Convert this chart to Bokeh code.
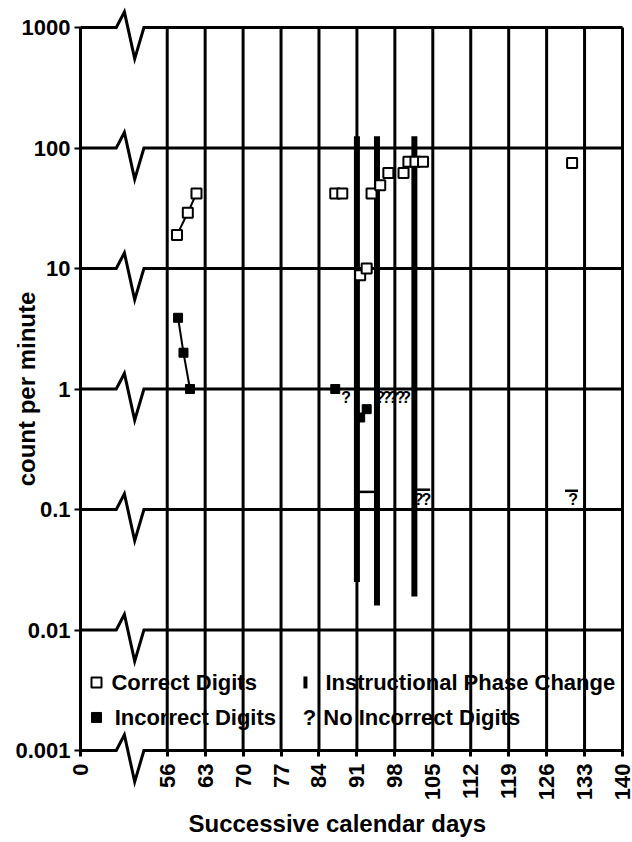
import math
from bokeh.plotting import figure
from bokeh.models import Range1d, FixedTicker, Title
from bokeh.core.properties import value
from bokeh.embed import file_html
from bokeh.resources import INLINE

# ---------------- data ----------------
X_TICK_DAYS = [0, 56, 63, 70, 77, 84, 91, 98, 105, 112, 119, 126, 133, 140]
X_TICK_LABELS = ["0", "56", "63", "70", "77", "84", "91", "98", "105", "112", "119", "126", "133", "140"]
Y_TICKS = [0.001, 0.01, 0.1, 1, 10, 100, 1000]
Y_TICK_LABELS = ["0.001", "0.01", "0.1", "1", "10", "100", "1000"]

CORRECT_EARLY_DAYS = [57.8, 59.8, 61.4]
CORRECT_EARLY = [19, 29, 42]
CORRECT_DAYS = [87, 88.3, 91.6, 92.8, 93.7, 95.3, 96.8, 99.6, 100.5, 101.8, 103.2, 130.7]
CORRECT = [42, 42, 8.8, 10, 42, 49, 62, 62, 77, 77, 77, 75]

INCORRECT_EARLY_DAYS = [58.0, 59.0, 60.2]
INCORRECT_EARLY = [3.9, 2.0, 1.0]
INCORRECT_DAYS = [87, 91.6, 92.8]
INCORRECT = [1.0, 0.58, 0.68]

NO_INCORRECT_DAYS = [89, 95.3, 96.5, 97.7, 99.0, 100.1, 102.4, 103.8, 130.9]
NO_INCORRECT_FLOOR = [1, 1, 1, 1, 1, 1, 0.143, 0.143, 0.143]
NO_INCORRECT_MARK = "?"

FLOOR_START = [91.2, 101.5, 129.4]
FLOOR_END = [94.3, 104.5, 131.8]
FLOOR_VALUE = [0.14, 0.146, 0.143]

PHASE_DAYS = [91, 94.7, 101.6]
PHASE_TOP = [125, 125, 125]
PHASE_BOTTOM = [0.025, 0.016, 0.019]

LEGEND_LABELS = ["Correct Digits", "Instructional Phase Change", "Incorrect Digits", "No Incorrect Digits"]
X_TITLE = "Successive calendar days"
Y_TITLE = "count per minute"

# ---------------- layout / style ----------------
ORIGIN_X = 40          # where day 0 sits on the broken axis
X_END = 140
FONT = "Liberation Sans"
INK = "black"


def xpos(d):
    return ORIGIN_X if d == 0 else d


x_tick_pos = [xpos(d) for d in X_TICK_DAYS]

p = figure(width=632, height=842,
           x_range=Range1d(ORIGIN_X, X_END), y_range=Range1d(Y_TICKS[0], Y_TICKS[-1]),
           y_axis_type="log", output_backend="svg", toolbar_location=None,
           min_border_left=80, min_border_right=10, min_border_top=27, min_border_bottom=92)
p.outline_line_color = None
p.grid.visible = False
p.background_fill_color = "white"
p.border_fill_color = "white"

# x axis
xa = p.xaxis[0]
xa.ticker = FixedTicker(ticks=x_tick_pos)
xa.major_label_overrides = {pos: lab for pos, lab in zip(x_tick_pos, X_TICK_LABELS)}
xa.major_label_orientation = math.pi / 2
xa.axis_line_color = None
xa.major_tick_out = 6
xa.major_tick_in = 0
xa.major_tick_line_width = 3
xa.major_tick_line_color = INK
xa.minor_tick_line_color = None
xa.major_label_text_font = FONT
xa.major_label_text_font_size = "22px"
xa.major_label_text_font_style = "bold"
xa.major_label_text_color = INK
xa.major_label_standoff = 7

# x title (below the axis)
p.add_layout(Title(text=X_TITLE, align="left", offset=108, standoff=8, text_font=FONT,
                   text_font_size="24px", text_font_style="bold", text_color=INK), "below")

# y axis
ya = p.yaxis[0]
ya.ticker = FixedTicker(ticks=Y_TICKS)
ya.major_label_overrides = {t: lab for t, lab in zip(Y_TICKS, Y_TICK_LABELS)}
ya.axis_line_color = None
ya.major_tick_out = 6
ya.major_tick_in = 0
ya.major_tick_line_width = 2
ya.major_tick_line_color = INK
ya.minor_tick_line_color = None
ya.major_label_text_font = FONT
ya.major_label_text_font_size = "22px"
ya.major_label_text_font_style = "bold"
ya.major_label_text_color = INK
ya.major_label_standoff = 4
ya.axis_label = Y_TITLE
ya.axis_label_text_font = FONT
ya.axis_label_text_font_size = "24px"
ya.axis_label_text_font_style = "bold"
ya.axis_label_text_color = INK
ya.axis_label_standoff = -28

renderers = []

# horizontal decade lines with the axis-break zigzag
ZZ_X = [ORIGIN_X, 46.6, 48.1, 50.0, 51.7, X_END]
ZZ_UP = 10 ** 0.13
ZZ_DOWN = 10 ** 0.26
hx, hy = [], []
for t in Y_TICKS:
    hx.append(ZZ_X)
    hy.append([t, t, t * ZZ_UP, t / ZZ_DOWN, t, t])
renderers.append(p.multi_line(hx, hy, line_color=INK, line_width=3, line_join="miter"))

# vertical day lines and left axis line
grid_x = x_tick_pos
renderers.append(p.segment(x0=grid_x, y0=[Y_TICKS[0]] * len(grid_x), x1=grid_x,
                           y1=[Y_TICKS[-1]] * len(grid_x), line_color=INK, line_width=3))

# phase change lines
renderers.append(p.segment(x0=PHASE_DAYS, y0=PHASE_BOTTOM, x1=PHASE_DAYS, y1=PHASE_TOP,
                           line_color=INK, line_width=6))

# record floor dashes
renderers.append(p.segment(x0=FLOOR_START, y0=FLOOR_VALUE, x1=FLOOR_END, y1=FLOOR_VALUE,
                           line_color=INK, line_width=2.5))

# data lines
renderers.append(p.line(CORRECT_EARLY_DAYS, CORRECT_EARLY, line_color=INK, line_width=2))
renderers.append(p.line(INCORRECT_EARLY_DAYS, INCORRECT_EARLY, line_color=INK, line_width=2))

# markers
renderers.append(p.scatter(CORRECT_EARLY_DAYS + CORRECT_DAYS, CORRECT_EARLY + CORRECT, marker="square",
                           size=10, line_color=INK, line_width=2, fill_color="white"))
renderers.append(p.scatter(INCORRECT_EARLY_DAYS + INCORRECT_DAYS, INCORRECT_EARLY + INCORRECT, marker="square",
                           size=9, line_color=INK, line_width=1, fill_color=INK))
renderers.append(p.text(x=NO_INCORRECT_DAYS, y=NO_INCORRECT_FLOOR, text=[NO_INCORRECT_MARK] * len(NO_INCORRECT_DAYS),
                        text_font=value(FONT), text_font_size="16px", text_font_style="bold",
                        text_align="center", text_baseline="top", text_color=INK))

# legend (inside the chart, between 0.01 and 0.001)
ROW1, ROW2 = 0.00367, 0.00188
renderers.append(p.scatter([42.95], [ROW1], marker="square", size=10, line_color=INK, line_width=2,
                           fill_color="white"))
renderers.append(p.scatter([42.95], [ROW2], marker="square", size=10, line_color=INK, fill_color=INK))
renderers.append(p.scatter([81.5], [ROW1], marker="dash", angle=math.pi / 2, size=12, line_color=INK,
                           line_width=4))
renderers.append(p.text(x=[82.25], y=[ROW2], text=[NO_INCORRECT_MARK], text_font=value(FONT),
                        text_font_size="22px", text_font_style="bold", text_align="center",
                        text_baseline="middle", text_color=INK))
renderers.append(p.text(x=[45.7, 85.2, 46.3, 84.8], y=[ROW1, ROW1, ROW2, ROW2], text=LEGEND_LABELS,
                        text_font=value(FONT), text_font_size="22px", text_font_style="bold",
                        text_align="left", text_baseline="middle", text_color=INK))

for r in renderers:
    r.level = "overlay"

open("out.html", "w").write(file_html(p, INLINE))
